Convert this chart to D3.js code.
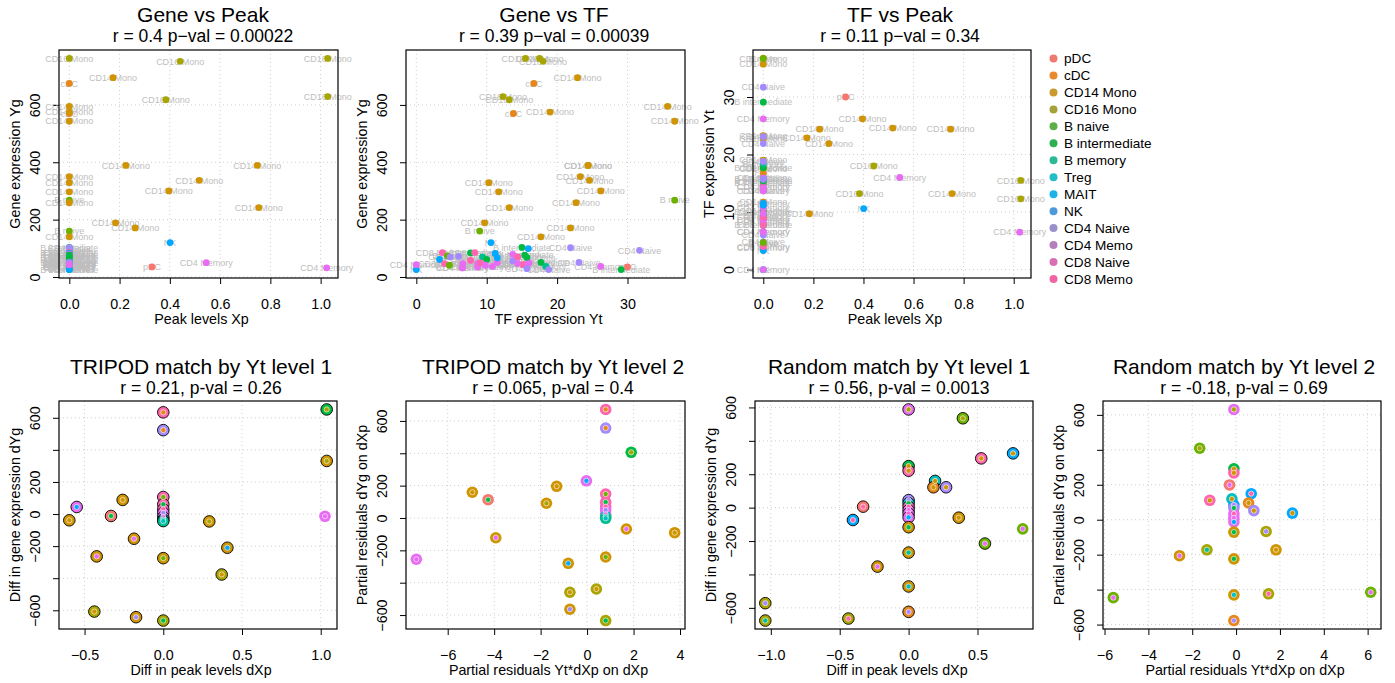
<!DOCTYPE html>
<html>
<head>
<meta charset="utf-8">
<script src="https://cdn.jsdelivr.net/npm/d3@7"></script>
<style>
  body { margin: 0; background: #fff; }
  svg { display: block; }
  text { font-family: "Liberation Sans", Arial, Helvetica, sans-serif; }
</style>
</head>
<body>
<svg id="chart" width="1395" height="683"></svg>
<script>
// ---------- metacell values (top row) ----------
const cellType = [
  "CD16 Mono","CD16 Mono","CD16 Mono","CD16 Mono",
  "CD14 Mono","CD14 Mono","CD14 Mono","CD14 Mono","CD14 Mono","CD14 Mono","CD14 Mono","CD14 Mono",
  "NK","pDC","CD4 Memory","CD4 Memory",
  "CD16 Mono","cDC","cDC","CD14 Mono","CD14 Mono","CD14 Mono","CD14 Mono","CD14 Mono","CD14 Mono",
  "B naive","CD14 Mono","B naive","CD14 Mono",
  "B intermediate","NK","CD4 Naive","CD4 Naive","CD8 Memory","B naive","NK","CD4 Naive","CD8 Memory","B naive",
  "CD4 Naive","CD4 Memory","CD4 Memory","B intermediate","CD8 Memory","CD8 Memory","CD4 Memory","CD4 Memory",
  "B memory","B intermediate","CD8 Memory","CD4 Memory","CD4 Memory","CD4 Memory","NK","NK","CD4 Naive",
  "CD4 Memory","CD8 Memory","CD4 Memory","CD8 Memory","B intermediate","B intermediate","CD4 Memory",
  "CD4 Naive","B intermediate","B memory","CD4 Naive","CD4 Naive","CD4 Memory","B intermediate","NK","CD4 Memory"
];
const peakXp = [
  0.441, 1.028, 0.384, 1.028, 0.174, 0.225, 0.748, 0.517, 0.396, 0.754, 0.184, 0.262, 0.401, 0.329, 0.545, 1.024,
  0, 0, 0, 0, 0, 0, 0, 0, 0, 0, 0, 0, 0,
  0, 0, 0, 0, 0, 0, 0, 0, 0, 0, 0, 0, 0, 0, 0, 0, 0, 0, 0, 0, 0, 0,
  0, 0, 0, 0, 0, 0, 0, 0, 0, 0, 0, 0, 0, 0, 0, 0, 0, 0, 0, 0, 0, 0
];
const tfYt = [
  18.0, 15.5, 13.2, 12.3, 22.9, 24.4, 24.4, 24.6, 26.2, 13.2, 9.7, 21.9, 10.6, 30.0, 16.0, 6.5,
  17.5, 16.7, 13.8, 35.7, 19.0, 36.7, 23.3, 10.3, 11.7, 36.7, 22.7, 9.0, 17.7,
  15.0, 15.9, 21.9, 31.7, 3.7, 4.4, 3.3, 4.8, 4.0, 4.7, 6.0, 6.6, 6.6, 7.7, 8.3, 7.7, 8.7, 8.7, 9.4, 10.0, 9.1,
  9.8, 10.8, 11.5, 11.2, 11.5, 13.7, 13.7, 14.4, 14.4, 15.2, 15.4, 15.7, 15.9, 15.7, 17.7, 18.4, 18.8, 23.1,
  26.2, 29.1, 0.0, 0.0
];
const geneYg = [
  752, 762, 618, 629, 695, 389, 389, 337, 300, 242, 189, 171, 120, 35, 50, 32,
  762, 675, 570, 595, 575, 543, 350, 329, 297, 268, 259, 160, 140,
  103, 99, 102, 93, 85, 74, 61, 70, 47, 41, 72, 47, 32, 84, 85, 58, 47, 35, 70, 61, 49,
  41, 37, 51, 82, 67, 56, 79, 70, 47, 43, 76, 68, 47, 29, 51, 37, 26, 51,
  37, 26, 26, 43
];

// ---------- matched differences (bottom row) ----------
const tripod1Dx = [0, 0, 1.038, 1.038, -0.550, -0.258, -0.332, -0.597, 0, 0, 0, 0, 0, 0, 0,
  0.292, -0.186, 0.407, -0.423, 0, 0.371, 1.027, -0.438, -0.173, 0];
const tripod1Dy = [634, 523, 652, 331, 44, 88, -12, -39, 106, 61, 30, 7, -19, -35, -44,
  -46, -154, -210, -264, -275, -377, -14, -608, -643, -664];
const tripod1Outer = ["CD8 Memory","CD4 Naive","B intermediate","CD14 Mono","CD4 Memory","CD14 Mono","pDC","CD14 Mono",
  "CD8 Memory","CD8 Memory","CD8 Memory","CD4 Memory","CD4 Memory","Treg","B memory",
  "CD14 Mono","CD14 Mono","CD14 Mono","CD14 Mono","CD14 Mono","CD16 Mono","CD4 Memory","CD16 Mono","CD14 Mono","CD16 Mono"];
const tripod1Inner = ["cDC","cDC","CD16 Mono","CD16 Mono","NK","CD14 Mono","B intermediate","CD14 Mono",
  "B naive","B intermediate","CD8 Memory","CD4 Naive","CD4 Memory","B memory","Treg",
  "CD16 Mono","CD4 Memory","NK","CD4 Memory","B naive","CD14 Mono","CD4 Memory","CD14 Mono","CD4 Naive","B intermediate"];
const tripod1Edge = [1,1,1,1,1,1,1,1,1,1,1,1,1,1,1,1,1,1,1,1,1,0,1,1,1];

const tripod2Dx = [0.80, 0.80, 1.90, -0.03, -4.94, -1.31, -4.26, -1.75, 0.80, 0.80, 0.80, 0.80, 0.80, 0.80, 0.80,
  1.69, 3.77, -3.93, -7.35, 0.80, -0.81, 0.40, -0.74, -0.74, 0.80];
const tripod2Dy = [671, 556, 406, 230, 159, 196, 113, 91, 148, 98, 70, 49, 22, 8, -2,
  -68, -91, -122, -255, -241, -280, -439, -459, -564, -634];
const tripod2Outer = ["CD8 Memory","CD4 Naive","B intermediate","CD4 Memory","CD14 Mono","CD14 Mono","pDC","CD14 Mono",
  "CD8 Memory","CD8 Memory","CD8 Memory","CD4 Memory","CD4 Memory","Treg","B memory",
  "CD14 Mono","CD14 Mono","CD14 Mono","CD4 Memory","CD14 Mono","CD14 Mono","CD16 Mono","CD16 Mono","CD14 Mono","CD16 Mono"];
const tripod2Inner = ["cDC","cDC","CD16 Mono","NK","CD14 Mono","CD14 Mono","B intermediate","CD16 Mono",
  "B naive","B intermediate","CD8 Memory","CD4 Naive","CD4 Memory","B memory","Treg",
  "CD4 Memory","CD14 Mono","CD4 Memory","CD4 Memory","B naive","NK","CD14 Mono","CD14 Mono","CD4 Naive","B intermediate"];
const tripod2Edge = tripod2Dx.map(() => 0);

const random1Dx = [0, 0.394, 0.758, 0.527, 0, 0, 0.192, 0.18, 0.272, -0.33, -0.404, 0, 0, 0, 0, 0, 0,
  0.364, 0, 0.828, 0.554, 0, -0.226, 0, -1.04, 0, -1.04, -0.437];
const random1Dy = [588, 535, 325, 295, 249, 221, 160, 122, 122, 6, -74, 45, 26, 5, -15, -35, -58,
  -60, -117, -127, -215, -269, -353, -472, -572, -624, -676, -664];
const random1Outer = ["CD4 Memory","B naive","NK","CD8 Memory","B intermediate","CD8 Memory","Treg","cDC","CD4 Naive","pDC","NK",
  "CD4 Naive","Treg","CD8 Memory","CD4 Memory","CD4 Memory","CD4 Memory",
  "CD14 Mono","CD14 Mono","B naive","B naive","CD14 Mono","CD14 Mono","CD14 Mono","CD16 Mono","cDC","CD16 Mono","CD16 Mono"];
const random1Inner = ["CD16 Mono","CD16 Mono","CD14 Mono","CD14 Mono","CD14 Mono","CD14 Mono","CD14 Mono","CD14 Mono","CD14 Mono","CD8 Memory","CD8 Memory",
  "CD4 Naive","B intermediate","CD8 Memory","CD4 Memory","CD8 Naive","NK",
  "CD14 Mono","B intermediate","CD4 Memory","CD4 Memory","B memory","CD4 Memory","Treg","CD4 Naive","CD4 Naive","B memory","CD8 Memory"];
const random1Edge = [1,1,1,1,1,1,1,1,1,1,1,1,1,1,1,1,1,1,1,0,1,1,1,1,1,1,1,1];

const random2Dx = [-0.10, -1.66, -0.10, -0.10, -0.30, -1.2, -0.19, 0.69, 0.57, 0.81, 2.57, -0.1, -0.1, -0.1, -0.1, -0.1,
  -0.10, 1.37, -1.33, 1.82, -2.58, -0.10, -0.10, 1.48, 6.14, -5.60, -0.10];
const random2Dy = [631, 409, 291, 268, 199, 111, 119, 149, 96, 52, 38, 85, 67, 34, 10, -13,
  -71, -67, -172, -172, -206, -224, -430, -424, -415, -446, -577];
const random2Outer = ["CD4 Memory","B naive","B intermediate","CD8 Memory","pDC","CD8 Memory","Treg","NK","cDC","CD4 Naive","NK",
  "NK","CD4 Naive","CD4 Memory","CD4 Memory","CD4 Memory",
  "CD14 Mono","CD16 Mono","CD16 Mono","CD14 Mono","CD14 Mono","CD14 Mono","CD14 Mono","CD16 Mono","B naive","B naive","cDC"];
const random2Inner = ["CD16 Mono","CD16 Mono","CD14 Mono","CD14 Mono","CD4 Memory","CD14 Mono","CD14 Mono","CD8 Memory","CD14 Mono","CD14 Mono","CD14 Mono",
  "CD4 Naive","B intermediate","CD8 Memory","CD4 Memory","NK",
  "B intermediate","CD4 Naive","B memory","CD14 Mono","CD4 Memory","B intermediate","Treg","CD8 Memory","CD4 Memory","CD4 Memory","CD4 Naive"];
const random2Edge = random2Dx.map(() => 0);

// ---------- ticks ----------
const peakTicks = [0, 0.2, 0.4, 0.6, 0.8, 1.0];
const peakTickLabels = ["0.0", "0.2", "0.4", "0.6", "0.8", "1.0"];
const geneTicks = [0, 200, 400, 600];
const geneTickLabels = ["0", "200", "400", "600"];
const tfTicks = [0, 10, 20, 30];
const tfTickLabels = ["0", "10", "20", "30"];
const diffYTicks = [-600, -400, -200, 0, 200, 400, 600];
const diffYTickLabels = ["\u2212600", "", "\u2212200", "0", "200", "", "600"];
const dxp1Ticks = [-0.5, 0, 0.5, 1.0];
const dxp1TickLabels = ["\u22120.5", "0.0", "0.5", "1.0"];
const resid1Ticks = [-6, -4, -2, 0, 2, 4];
const resid1TickLabels = ["\u22126", "\u22124", "\u22122", "0", "2", "4"];
const dxp2Ticks = [-1.0, -0.5, 0, 0.5];
const dxp2TickLabels = ["\u22121.0", "\u22120.5", "0.0", "0.5"];
const resid2Ticks = [-6, -4, -2, 0, 2, 4, 6];
const resid2TickLabels = ["\u22126", "\u22124", "\u22122", "0", "2", "4", "6"];

// ---------- legend ----------
const legendNames = ["pDC","cDC","CD14 Mono","CD16 Mono","B naive","B intermediate","B memory",
  "Treg","MAIT","NK","CD4 Naive","CD4 Memo","CD8 Naive","CD8 Memo"];
const legendColors = ["#EF7A72","#E7892C","#C99A2F","#A3A33A","#5EAF48","#2DAF52","#2DB892",
  "#22BDC7","#1DB3E6","#4E9AD8","#9A90CB","#B67FBB","#D670B3","#EF66A6"];

const typeColor = {
  "pDC": "#F8766D", "cDC": "#E7861B", "CD14 Mono": "#CF9400", "CD16 Mono": "#A8A400",
  "B naive": "#6BB100", "B intermediate": "#00BA42", "B memory": "#00BF8E", "Treg": "#00BFC4",
  "NK": "#00A9FF", "CD4 Naive": "#A58AFF", "CD4 Memory": "#E76BF3", "CD8 Naive": "#FD61D1",
  "CD8 Memory": "#FF65AE"
};

// ---------- drawing ----------
const svg = d3.select("#chart");
const AXIS_FS = 14.3;

function pad(ext) {
  const r = ext[1] - ext[0];
  return [ext[0] - 0.04 * r, ext[1] + 0.04 * r];
}

function drawFrame(cfg, xs, ys) {
  const [L, R, T, B] = cfg.box;
  const x = d3.scaleLinear().domain(pad(d3.extent(xs))).range([L, R]);
  const y = d3.scaleLinear().domain(pad(d3.extent(ys))).range([B, T]);
  const g = svg.append("g");

  // dotted grid
  g.append("g").selectAll("line").data(cfg.xTicks).join("line")
    .attr("x1", d => x(d)).attr("x2", d => x(d)).attr("y1", T).attr("y2", B)
    .attr("stroke", "#cfcfcf").attr("stroke-width", 1).attr("stroke-dasharray", "1,3");
  g.append("g").selectAll("line").data(cfg.yTicks).join("line")
    .attr("x1", L).attr("x2", R).attr("y1", d => y(d)).attr("y2", d => y(d))
    .attr("stroke", "#cfcfcf").attr("stroke-width", 1).attr("stroke-dasharray", "1,3");

  // x axis
  const ax = g.append("g").attr("transform", `translate(0,${B})`)
    .call(d3.axisBottom(x).tickValues(cfg.xTicks).tickFormat((d, i) => cfg.xLabels[i]).tickSize(6).tickPadding(15));
  ax.select(".domain").remove();
  ax.selectAll("line").attr("stroke", "#000");
  ax.selectAll("text").attr("font-size", AXIS_FS).attr("fill", "#000")
    .attr("font-family", '"Liberation Sans", Arial, sans-serif');

  // y axis, labels parallel to the axis
  const ay = g.append("g").attr("transform", `translate(${L},0)`)
    .call(d3.axisLeft(y).tickValues(cfg.yTicks).tickFormat((d, i) => cfg.yLabels[i]).tickSize(6));
  ay.select(".domain").remove();
  ay.selectAll("line").attr("stroke", "#000");
  ay.selectAll("text").attr("font-size", AXIS_FS).attr("fill", "#000")
    .attr("font-family", '"Liberation Sans", Arial, sans-serif')
    .attr("transform", "rotate(-90)").attr("x", 0).attr("y", -19).attr("dy", null)
    .attr("text-anchor", "middle");

  // titles
  g.append("text").attr("x", cfg.cx).attr("y", cfg.titleY).attr("text-anchor", "middle")
    .attr("font-size", 21).text(cfg.title);
  g.append("text").attr("x", cfg.cx).attr("y", cfg.titleY + 20).attr("text-anchor", "middle")
    .attr("font-size", 17.5).text(cfg.sub);
  g.append("text").attr("x", (L + R) / 2 + 3).attr("y", B + 46).attr("text-anchor", "middle")
    .attr("font-size", AXIS_FS).text(cfg.xTitle);
  g.append("text").attr("transform", `translate(${L - 39},${(T + B) / 2}) rotate(-90)`)
    .attr("text-anchor", "middle").attr("font-size", AXIS_FS).text(cfg.yTitle);

  return { g, x, y, box: cfg.box };
}

function drawBox(p) {
  const [L, R, T, B] = p.box;
  p.g.append("rect").attr("x", L).attr("y", T).attr("width", R - L).attr("height", B - T)
    .attr("fill", "none").attr("stroke", "#000").attr("stroke-width", 1.2);
}

// top row: labelled scatter of metacells
const idx = d3.range(cellType.length);
function topPanel(cfg, xs, ys) {
  const p = drawFrame(cfg, xs, ys);
  p.g.append("g").selectAll("text").data(idx).join("text")
    .attr("x", i => p.x(xs[i])).attr("y", i => p.y(ys[i]) + 3.2)
    .attr("text-anchor", "middle").attr("font-size", 9).attr("fill", "#BEBEBE")
    .text(i => cellType[i]);
  p.g.append("g").selectAll("circle").data(idx).join("circle")
    .attr("cx", i => p.x(xs[i])).attr("cy", i => p.y(ys[i])).attr("r", 3.4)
    .attr("fill", i => typeColor[cellType[i]]);
  drawBox(p);
}

// bottom row: matched pairs, outer ring = first cell type, inner dot = second
function bottomPanel(cfg, dx, dy, outer, inner, edge) {
  const p = drawFrame(cfg, dx, dy);
  const ids = d3.range(dx.length);
  p.g.append("g").selectAll("circle").data(ids).join("circle")
    .attr("cx", i => p.x(dx[i])).attr("cy", i => p.y(dy[i])).attr("r", 5.8)
    .attr("fill", i => typeColor[outer[i]])
    .attr("stroke", i => edge[i] ? "#000" : "none").attr("stroke-width", 0.9);
  p.g.append("g").selectAll("circle").data(ids).join("circle")
    .attr("cx", i => p.x(dx[i])).attr("cy", i => p.y(dy[i])).attr("r", 2.6)
    .attr("fill", i => typeColor[inner[i]])
    .attr("stroke", "#fff").attr("stroke-opacity", 0.6).attr("stroke-width", 1);
  drawBox(p);
}

topPanel({ box: [59, 338, 50, 278], xTicks: peakTicks, xLabels: peakTickLabels,
  yTicks: geneTicks, yLabels: geneTickLabels, cx: 203, titleY: 22,
  title: "Gene vs Peak", sub: "r = 0.4 p\u2212val = 0.00022",
  xTitle: "Peak levels Xp", yTitle: "Gene expression Yg" }, peakXp, geneYg);

topPanel({ box: [406, 685, 50, 278], xTicks: tfTicks, xLabels: tfTickLabels,
  yTicks: geneTicks, yLabels: geneTickLabels, cx: 554, titleY: 22,
  title: "Gene vs TF", sub: "r = 0.39 p\u2212val = 0.00039",
  xTitle: "TF expression Yt", yTitle: "Gene expression Yg" }, tfYt, geneYg);

topPanel({ box: [753, 1031, 50, 278], xTicks: peakTicks, xLabels: peakTickLabels,
  yTicks: tfTicks, yLabels: tfTickLabels, cx: 900, titleY: 22,
  title: "TF vs Peak", sub: "r = 0.11 p\u2212val = 0.34",
  xTitle: "Peak levels Xp", yTitle: "TF expression Yt" }, peakXp, tfYt);

bottomPanel({ box: [59, 337, 401, 629], xTicks: dxp1Ticks, xLabels: dxp1TickLabels,
  yTicks: diffYTicks, yLabels: diffYTickLabels, cx: 201, titleY: 374,
  title: "TRIPOD match by Yt level 1", sub: "r = 0.21, p-val = 0.26",
  xTitle: "Diff in peak levels dXp", yTitle: "Diff in gene expression dYg" },
  tripod1Dx, tripod1Dy, tripod1Outer, tripod1Inner, tripod1Edge);

bottomPanel({ box: [406, 685, 401, 629], xTicks: resid1Ticks, xLabels: resid1TickLabels,
  yTicks: diffYTicks, yLabels: diffYTickLabels, cx: 553, titleY: 374,
  title: "TRIPOD match by Yt level 2", sub: "r = 0.065, p-val = 0.4",
  xTitle: "Partial residuals Yt*dXp on dXp", yTitle: "Partial residuals dYg on dXp" },
  tripod2Dx, tripod2Dy, tripod2Outer, tripod2Inner, tripod2Edge);

bottomPanel({ box: [755, 1033, 401, 629], xTicks: dxp2Ticks, xLabels: dxp2TickLabels,
  yTicks: diffYTicks, yLabels: diffYTickLabels, cx: 899, titleY: 374,
  title: "Random match by Yt level 1", sub: "r = 0.56, p-val = 0.0013",
  xTitle: "Diff in peak levels dXp", yTitle: "Diff in gene expression dYg" },
  random1Dx, random1Dy, random1Outer, random1Inner, random1Edge);

bottomPanel({ box: [1103, 1381, 401, 629], xTicks: resid2Ticks, xLabels: resid2TickLabels,
  yTicks: diffYTicks, yLabels: diffYTickLabels, cx: 1244, titleY: 374,
  title: "Random match by Yt level 2", sub: "r = -0.18, p-val = 0.69",
  xTitle: "Partial residuals Yt*dXp on dXp", yTitle: "Partial residuals dYg on dXp" },
  random2Dx, random2Dy, random2Outer, random2Inner, random2Edge);

// legend
const lg = svg.append("g");
const legY = d3.scaleLinear().domain([0, legendNames.length - 1]).range([58.5, 279]);
lg.selectAll("circle").data(legendNames).join("circle")
  .attr("cx", 1053.5).attr("cy", (d, i) => legY(i)).attr("r", 4)
  .attr("fill", (d, i) => legendColors[i]);
lg.selectAll("text").data(legendNames).join("text")
  .attr("x", 1064).attr("y", (d, i) => legY(i) + 4.8)
  .attr("font-size", 13.6).text(d => d);
</script>
</body>
</html>
